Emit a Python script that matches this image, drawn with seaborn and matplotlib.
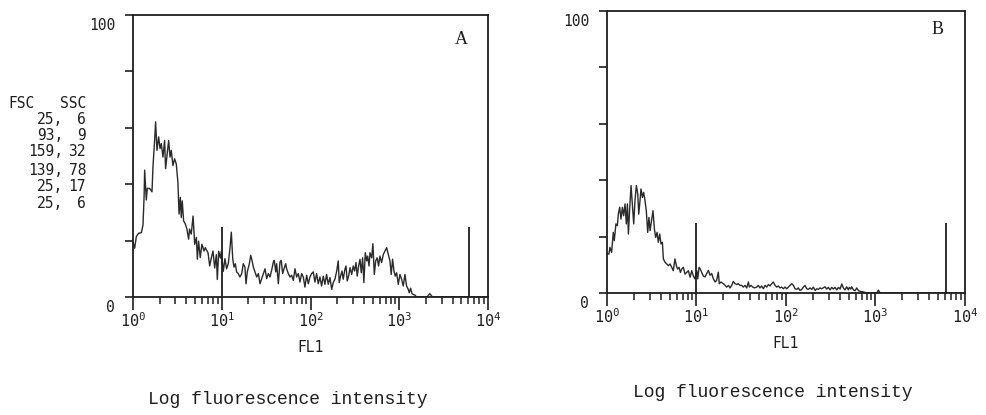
import numpy as np
import pandas as pd
import matplotlib
matplotlib.use("Agg")
import matplotlib.pyplot as plt
import matplotlib.transforms as mtransforms
from matplotlib.ticker import FixedLocator, LogLocator, NullFormatter
import seaborn as sns

# ---------------- data ----------------
CH_PER_DECADE = 64  # 256-channel log amplifier, 4 decades

chan_a = [0, 1.2, 2.4, 4, 6, 7.2, 8, 8.4, 9.6, 10.3, 12, 13.7, 14.4, 15.6, 16.3, 17.3, 18.5, 19.5, 20.4, 21.6,
          22.8, 23.5, 24.7, 25.7, 26.7, 27.6, 28.8, 30, 31.2, 32.4, 33.2, 34.1, 34.8, 35.5, 36.5, 37.7, 38.9, 40.1, 40.8, 42,
          43.3, 44.5, 45.7, 46.4, 47.3, 48.5, 49.7, 51.2, 52.1, 54.1, 55.3, 56.5, 57.7, 58.9, 60.1, 60.8, 61.8, 63, 63.7, 65.1,
          66.3, 67.5, 68.7, 69.9, 70.9, 71.9, 72.8, 73.8, 74.7, 75.9, 77.1, 78.4, 79.5, 80.7, 81.5, 82.4, 83.9, 84.9, 85.8, 86.8,
          88, 89.2, 90.4, 91.6, 92.8, 94, 95.2, 96.4, 97.6, 98.8, 100, 101.2, 101.9, 102.9, 103.6, 104.8, 106, 106.9, 107.9, 108.9,
          110.1, 110.8, 112, 113.2, 114.4, 115.6, 116.8, 118, 119.2, 120.4, 121.6, 122.8, 124, 125.2, 126.4, 127.6, 128.8, 130, 131.2, 132.4,
          133.6, 134.8,
          136, 137.2, 138.4, 139.6, 140.8, 142, 143.3, 144.4, 145.6, 146.9, 148, 148.7, 149.7, 150.7, 151.6, 152.8, 153.6, 154.5, 155.5, 156.5,
          157.7, 158.8, 159.8, 160.8, 161.7, 162.7, 163.7, 164.6, 165.6, 166.5, 167.5, 168.5, 169.2, 170.2, 170.9, 172.1, 173, 174, 175, 176.1,
          177.1, 178.1, 179.3, 180.5, 181.7, 182.9, 184.1, 185.3, 186.2, 187.2, 188.2, 189.1, 190.1, 191.3, 192.5, 193.7, 194.9, 196.1, 197.3, 198.5,
          199.2, 200.2, 201.2, 202.1, 203.3, 204.5, 212, 214, 216, 256]
count_a = [19.6, 17.3, 21.4, 22.6, 22.8, 25.5, 35.6, 45, 34.4, 38.5, 38.5, 37.3, 46.2, 55.6, 62.1, 52, 56.8, 52.6, 54.4, 49.6,
           55.5, 45.5, 50.8, 55.5, 49.6, 52, 46.6, 49, 47.2, 40.6, 29.4, 35.3, 28.2, 34.1, 27, 25.9, 24.1, 20.5, 24.1, 22.3,
           28.7, 18.7, 21.1, 13.4, 19.8, 14, 18.7, 16.3, 17.5, 15.7, 11, 13.9, 16.3, 10.3, 15, 6.2, 16.2, 13.8, 16.2, 9.1,
           13.6, 10, 11.8, 17.1, 23, 13.6, 10.6, 11.8, 8.9, 8.3, 7.1, 8.3, 11.8, 10.6, 4.7, 8.9, 11.8, 14.8, 13, 10.6,
           8.9, 7.1, 8.3, 4.7, 6.5, 8.3, 10, 6.5, 8.3, 7.1, 9.5, 12.4, 13, 8.9, 11.8, 4.7, 12.4, 13, 8.3, 10,
           11.8, 10, 8.3, 7.1, 7.7, 5.9, 10, 7.1, 8.3, 5.3, 8.3, 7.1, 3.5, 7.7, 4.7, 7.1, 8.3, 8.9, 5.3, 8.3,
           4.7, 7.1,
           3.9, 7.4, 4.5, 8, 4.5, 6.9, 2.7, 5.1, 6.3, 9.2, 12.8, 5.1, 7.4, 9.2, 6.3, 9.8, 11, 5.7, 7.4, 10.4,
           8, 11, 9.2, 12.2, 7.4, 11, 13.4, 8.6, 13.9, 5.1, 15.7, 12.8, 14.5, 11, 15.7, 13.9, 18.9, 8, 12.8, 13.9,
           11, 14.5, 12.2, 15.1, 16.3, 17.5, 15.1, 12.8, 8, 13.4, 9.2, 7.4, 8.6, 4.5, 8, 6.3, 3.9, 8, 3.9, 2.7,
           1.5, 3.1, 1.2, 0.9, 0.7, 0, 0, 1.2, 0, 0]

chan_b = [0, 1.4, 2.1, 3.3, 4.5, 5.2, 6.4, 7.4, 8.1, 9.1, 10, 11, 11.9, 12.9, 13.8, 14.6, 15.3, 16.2, 17.2, 18.1,
          19.1, 20, 21, 22, 22.7, 23.6, 24.3, 25.3, 26.2, 27.2, 28.1, 29.1, 30, 30.8, 32, 32.9, 33.9, 34.8, 35.8, 36.7,
          37.7, 38.6, 39.6, 40.3, 41.5, 42.7, 43.9, 45.1, 46.3, 47.4, 48.6, 49.6, 50.5, 51.5, 52.5, 53.4, 54.6, 55.8, 57, 58.2,
          59.4, 60.6, 61.7, 62.9, 64.2, 64.9, 65.8, 66.7, 67.7, 68.9,
          70.1, 71.3, 72.5, 73.7, 74.9, 76, 77.3, 78.4, 79.6, 80.3, 81.5, 83.2, 84.4, 85.6, 86.8, 88, 89.2, 90.3, 91.6, 92.8,
          93.9, 95.1, 96.3, 97.5, 98.7, 99.9, 101.1, 101.8, 103, 104.2, 105.4, 107.1, 108.2, 109.4, 110.6, 111.8, 113, 114.2, 115.4, 116.6,
          117.8, 118.9, 120.2, 121.4, 122.5, 123.7, 124.9, 126.1, 127.3, 128.5, 129.7, 130.9, 132.1, 133.3, 134.5, 135.7, 136.8, 138, 139.3, 140.4,
          141.6, 142.8, 144, 145.2, 146.4, 147.6, 148.8, 150, 151.1, 152.4, 153.5,
          155.9, 157.1, 158.3, 159.5, 160.7, 161.9, 163.1, 164.3, 165.5, 166.7, 167.9, 169, 170.2, 171.4, 172.6, 173.3, 174.3, 175, 176.2, 177.4,
          178.6, 179.8, 181, 183.3, 185.8, 192.9, 194.1, 195.3, 256]
count_b = [14, 13.8, 16.2, 14.4, 21.5, 18.6, 24.5, 23.9, 28, 30.4, 26.2, 30.4, 27.4, 31.6, 24.5, 31.6, 20.9, 29.8, 38.1, 31.6,
           24.5, 32.7, 38.1, 35.1, 28, 32.7, 36.9, 33.9, 35.7, 32.7, 29.2, 21.5, 26.8, 22.1, 26.2, 29.2, 22.7, 19.7, 21.5, 18,
           20.9, 17.4, 18, 12.1, 10.9, 10.3, 9.7, 10.3, 9.1, 7.9, 12.1, 9.7, 8.5, 9.1, 7.3, 8.5, 9.1, 6.7, 7.3, 7.9,
           5.6, 7.9, 6.1, 5, 7.9, 5, 9.1, 8.5, 7.3, 6,
           5.7, 6.9, 8, 6.3, 6.9, 5.1, 3.9, 4.5, 7.4, 3.3, 3.9, 3.3, 2.7, 2.1, 2.7, 1.8, 2.7, 4.1, 3.3, 3,
           3.3, 2.7, 2.7, 2.1, 2.7, 1.8, 3.9, 2.1, 2.7, 2.1, 1.8, 2.1, 2.7, 1.8, 2.5, 1.5, 2.7, 2.1, 3, 2.5,
           3.3, 3.9, 2.7, 2.1, 2.5, 1.8, 2.1, 1.5, 2.1, 1.5, 2.1, 2.7, 3.3, 2.7, 1.5, 1.3, 1.8, 0.9, 1.3, 2.1,
           2.7, 1.5, 1.3, 1.8, 1.3, 2.1, 0.9, 1.5, 1.3, 1.8, 1.5,
           2.2, 1.4, 2, 1.1, 2, 1.4, 2, 1.1, 2, 1.4, 3.2, 1.8, 1.1, 2.2, 1.1, 2, 1.4, 2.2, 1.1, 0.8,
           1.8, 0.8, 0.6, 0.4, 0, 0, 1, 0, 0]

marker_fl1 = [10, 6100]
marker_height = [25, 25]

fsc_values = [25, 93, 159, 139, 25, 25]
ssc_values = [6, 9, 32, 78, 17, 6]

x_tick_values = [1, 10, 100, 1000, 10000]
x_tick_labels = [r"$\mathregular{10^{0}}$", r"$\mathregular{10^{1}}$", r"$\mathregular{10^{2}}$",
                 r"$\mathregular{10^{3}}$", r"$\mathregular{10^{4}}$"]
y_tick_values = [0, 20, 40, 60, 80, 100]
y_tick_labels = ["0", "", "", "", "", "100"]
panel_letters = ["A", "B"]
x_label = "FL1"
caption = "Log fluorescence intensity"
gate_header = ["FSC", "SSC"]

# ---------------- style ----------------
sns.set_theme(style="white")
plt.rcParams["font.family"] = ["DejaVu Sans Mono", "DejaVu Sans"]
plt.rcParams["mathtext.fontset"] = "custom"
plt.rcParams["mathtext.rm"] = "DejaVu Sans Mono"
plt.rcParams["mathtext.it"] = "DejaVu Sans Mono"

INK = "#1e1e1e"
LINE = "#2a2a2a"

fig = plt.figure(figsize=(9.87, 4.15), dpi=100)
W, H = 987, 415

def px_axes(left, top, right, bottom):
    return fig.add_axes([left / W, 1 - bottom / H, (right - left) / W, (bottom - top) / H])

ax_a = px_axes(133, 15, 488, 297)
ax_b = px_axes(607, 11, 965, 293)

datasets = [(chan_a, count_a), (chan_b, count_b)]

for ax, (chan, counts), letter in zip([ax_a, ax_b], datasets, panel_letters):
    df = pd.DataFrame({"FL1": 10 ** (np.asarray(chan, dtype=float) / CH_PER_DECADE),
                       "count": counts})
    ax.set_xscale("log")
    sns.lineplot(data=df, x="FL1", y="count", estimator=None, sort=False,
                 color=LINE, linewidth=1.0, ax=ax)
    ax.vlines(marker_fl1, 0, marker_height, color=INK, linewidth=1.3)

    ax.set_xlim(1, 10000)
    ax.set_ylim(0, 100)
    for s in ax.spines.values():
        s.set_visible(True)
        s.set_color(INK)
        s.set_linewidth(1.3)

    ax.xaxis.set_major_locator(FixedLocator(x_tick_values))
    ax.xaxis.set_minor_locator(LogLocator(base=10, subs=np.arange(2, 10)))
    ax.xaxis.set_minor_formatter(NullFormatter())
    ax.set_xticklabels(x_tick_labels)
    ax.set_yticks(y_tick_values)
    ax.set_yticklabels(y_tick_labels)

    ax.tick_params(axis="x", which="major", direction="out", length=9.4, width=1.2,
                   color=INK, labelsize=11, pad=1, labelcolor=INK, bottom=True)
    ax.tick_params(axis="x", which="minor", direction="out", length=5, width=1.1,
                   color=INK, bottom=True)
    ax.tick_params(axis="y", which="major", direction="out", length=6, width=1.2,
                   color=INK, labelsize=10.5, pad=7, labelcolor=INK, left=True)
    off = mtransforms.ScaledTranslation(0, -9 / 100, fig.dpi_scale_trans)
    for lab in ax.get_yticklabels():
        lab.set_transform(lab.get_transform() + off)

    ax.set_xlabel(x_label, fontsize=10.5, color=INK, labelpad=7)
    ax.set_ylabel("")
    ax.grid(False)

# panel letters
fig.text(461 / W, 1 - 40 / H, panel_letters[0], fontsize=13, family="Liberation Serif",
         ha="center", va="center", color=INK)
fig.text(938 / W, 1 - 29 / H, panel_letters[1], fontsize=13, family="Liberation Serif",
         ha="center", va="center", color=INK)

# captions
fig.text(288 / W, 1 - 399 / H, caption, fontsize=13, family="Liberation Mono",
         ha="center", va="center", color=INK)
fig.text(773 / W, 1 - 392 / H, caption, fontsize=13, family="Liberation Mono",
         ha="center", va="center", color=INK)

# scatter gate listing at the left (header words aligned with the two columns)
fig.text(8 / W, 1 - 103 / H, gate_header[0], fontsize=10.5, ha="left", va="center", color=INK)
fig.text(86 / W, 1 - 103 / H, gate_header[1], fontsize=10.5, ha="right", va="center", color=INK)
row_y = [119, 136, 152, 170, 186, 203]
for yv, f, s in zip(row_y, fsc_values, ssc_values):
    fig.text(63 / W, 1 - yv / H, f"{f},", fontsize=10.5, ha="right", va="center", color=INK)
    fig.text(86 / W, 1 - yv / H, f"{s}", fontsize=10.5, ha="right", va="center", color=INK)

fig.savefig("out.png", dpi=100, facecolor="white")
